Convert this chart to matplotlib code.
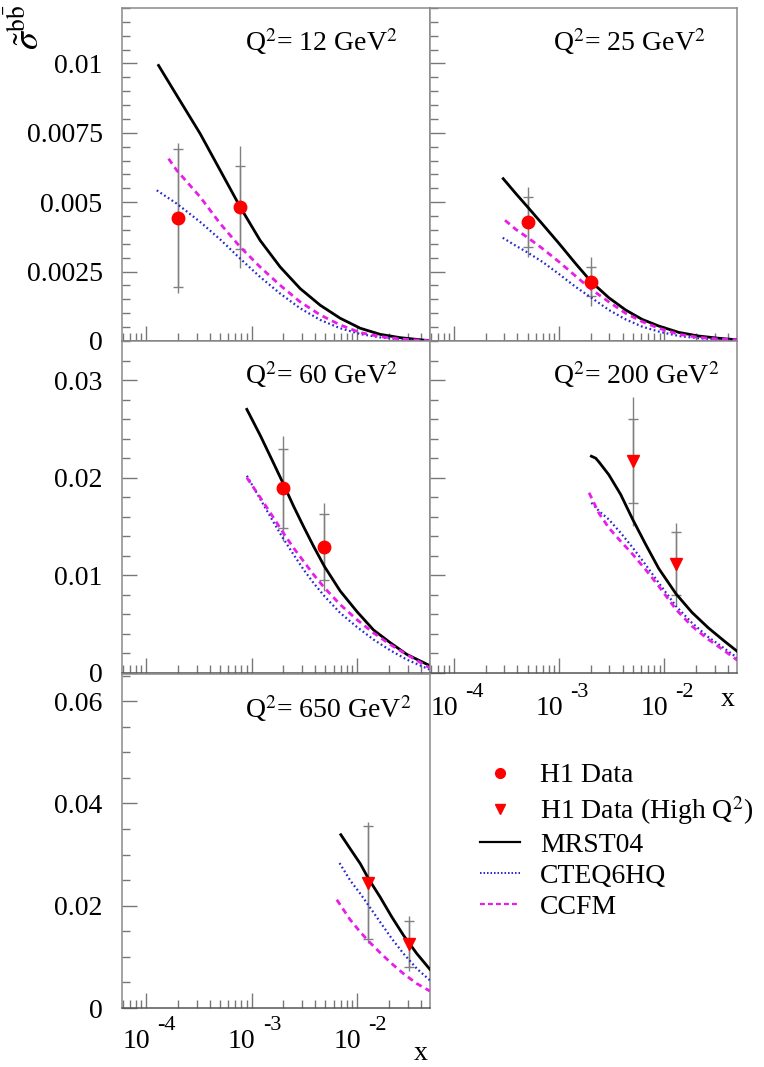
import numpy as np
import matplotlib
matplotlib.use('Agg')
import matplotlib.pyplot as plt
from matplotlib.ticker import LogLocator, FixedLocator, MultipleLocator, NullFormatter, FixedFormatter
from matplotlib.lines import Line2D
from matplotlib.transforms import offset_copy

plt.rcParams['font.family'] = ['Liberation Serif', 'DejaVu Serif']
plt.rcParams['mathtext.fontset'] = 'stix'

# ---------------- data ----------------
q2_values = ['12', '25', '60', '200', '650']
high_q2 = [False, False, False, True, True]

mrst_x = [[1.31e-4, 1.95e-4, 3.25e-4, 5.03e-4, 7.78e-4, 1.20e-3, 1.86e-3, 2.88e-3, 4.46e-3, 6.90e-3, 1.07e-2, 1.65e-2, 2.56e-2, 4.9e-2],
          [2.93e-4, 3.87e-4, 5.0e-4, 6.93e-4, 9.97e-4, 1.43e-3, 2.02e-3, 2.96e-3, 4.27e-3, 6.13e-3, 8.83e-3, 1.37e-2, 2.11e-2, 3.27e-2, 4.95e-2],
          [9.0e-4, 1.21e-3, 1.61e-3, 1.97e-3, 2.49e-3, 3.10e-3, 3.85e-3, 4.90e-3, 6.90e-3, 9.93e-3, 1.43e-2, 2.06e-2, 2.96e-2, 4.89e-2],
          [2.02e-3, 2.22e-3, 2.39e-3, 2.96e-3, 3.83e-3, 5.01e-3, 6.61e-3, 8.83e-3, 1.29e-2, 1.83e-2, 2.63e-2, 3.78e-2, 4.95e-2],
          [7.0e-3, 8.58e-3, 1.07e-2, 1.28e-2, 1.65e-2, 2.13e-2, 2.75e-2, 3.68e-2, 4.89e-2]]
mrst_y = [[0.00993, 0.00885, 0.00747, 0.00615, 0.00483, 0.00363, 0.00267, 0.00189, 0.00129, 0.00082, 0.00046, 0.00024, 0.00012, 0.00001],
          [0.00585, 0.00531, 0.00483, 0.00421, 0.00351, 0.00279, 0.00213, 0.00156, 0.00112, 0.00078, 0.00054, 0.00031, 0.00018, 0.0001, 0.00004],
          [0.0270, 0.0243, 0.0215, 0.0195, 0.0171, 0.0150, 0.0130, 0.0109, 0.0084, 0.0063, 0.0044, 0.0031, 0.0019, 0.00075],
          [0.0222, 0.0220, 0.0216, 0.0203, 0.0183, 0.0157, 0.0132, 0.0107, 0.0081, 0.0062, 0.0046, 0.0032, 0.0022],
          [0.03388, 0.03114, 0.02821, 0.02528, 0.02169, 0.01779, 0.0142, 0.01062, 0.00756]]

cteq_x = [[1.26e-4, 1.95e-4, 3.25e-4, 5.03e-4, 7.78e-4, 1.20e-3, 1.86e-3, 2.88e-3, 4.46e-3, 6.90e-3, 1.07e-2, 1.65e-2, 2.56e-2, 4.9e-2],
          [2.9e-4, 3.87e-4, 5.0e-4, 6.93e-4, 9.97e-4, 1.43e-3, 2.02e-3, 2.96e-3, 4.27e-3, 6.13e-3, 8.83e-3, 1.37e-2, 2.11e-2, 3.27e-2, 4.95e-2],
          [9.0e-4, 1.21e-3, 1.61e-3, 1.97e-3, 2.49e-3, 3.10e-3, 3.85e-3, 4.90e-3, 6.90e-3, 9.93e-3, 1.43e-2, 2.06e-2, 2.96e-2, 4.89e-2],
          [2.02e-3, 2.39e-3, 2.96e-3, 3.83e-3, 5.01e-3, 6.61e-3, 8.83e-3, 1.29e-2, 1.83e-2, 2.63e-2, 3.78e-2, 4.95e-2],
          [6.8e-3, 8.58e-3, 1.07e-2, 1.28e-2, 1.65e-2, 2.13e-2, 2.75e-2, 3.68e-2, 4.89e-2]]
cteq_y = [[0.00543, 0.00495, 0.00429, 0.00366, 0.00297, 0.00231, 0.00171, 0.00118, 0.00076, 0.00046, 0.00025, 0.00013, 0.00006, 0.0],
          [0.00372, 0.00343, 0.00319, 0.00285, 0.00241, 0.00195, 0.00156, 0.00112, 0.00078, 0.00052, 0.00034, 0.00018, 0.0001, 0.00005, 0.00001],
          [0.0202, 0.01778, 0.01545, 0.01385, 0.01214, 0.0106, 0.00923, 0.00786, 0.00615, 0.00472, 0.00342, 0.00232, 0.00137, 0.00034],
          [0.01744, 0.01658, 0.01573, 0.01436, 0.01282, 0.01111, 0.00923, 0.00684, 0.00513, 0.00366, 0.00246, 0.00154],
          [0.02834, 0.02495, 0.02235, 0.02007, 0.01681, 0.01355, 0.01062, 0.00769, 0.00541]]

ccfm_x = [[1.63e-4, 1.95e-4, 3.25e-4, 5.03e-4, 7.78e-4, 1.20e-3, 1.86e-3, 2.88e-3, 4.46e-3, 6.90e-3, 1.07e-2, 1.65e-2, 2.56e-2, 4.9e-2],
          [3.05e-4, 3.87e-4, 5.0e-4, 6.93e-4, 9.97e-4, 1.43e-3, 2.02e-3, 2.96e-3, 4.27e-3, 6.13e-3, 8.83e-3, 1.37e-2, 2.11e-2, 3.27e-2, 4.95e-2],
          [9.0e-4, 1.21e-3, 1.61e-3, 1.97e-3, 2.49e-3, 3.10e-3, 3.85e-3, 4.90e-3, 6.90e-3, 9.93e-3, 1.43e-2, 2.06e-2, 2.96e-2, 4.89e-2],
          [1.92e-3, 2.39e-3, 2.96e-3, 3.83e-3, 5.01e-3, 6.61e-3, 8.83e-3, 1.29e-2, 1.83e-2, 2.63e-2, 3.78e-2, 4.95e-2],
          [6.41e-3, 8.58e-3, 1.07e-2, 1.28e-2, 1.65e-2, 2.13e-2, 2.75e-2, 3.68e-2, 4.89e-2]]
ccfm_y = [[0.00657, 0.00615, 0.00519, 0.00423, 0.00339, 0.00267, 0.00201, 0.00141, 0.00094, 0.00058, 0.0003, 0.00016, 0.00007, 0.00001],
          [0.00435, 0.00402, 0.00373, 0.00333, 0.00285, 0.00234, 0.00186, 0.00141, 0.0010, 0.0007, 0.00046, 0.00024, 0.00013, 0.00007, 0.00004],
          [0.0200, 0.01795, 0.0159, 0.01443, 0.01282, 0.01145, 0.01009, 0.00872, 0.00701, 0.00547, 0.0041, 0.00291, 0.00188, 0.00051],
          [0.01846, 0.01634, 0.01487, 0.0135, 0.01214, 0.0106, 0.00889, 0.0065, 0.00479, 0.00342, 0.00222, 0.0013],
          [0.02117, 0.01726, 0.01485, 0.01309, 0.01081, 0.00866, 0.00671, 0.00476, 0.00332]]

h1_x = [[2.0e-4, 7.8e-4], [5.0e-4, 2.0e-3], [2.0e-3, 4.9e-3], [5.0e-3, 1.3e-2], [1.27e-2, 3.1e-2]]
h1_y = [[0.00443, 0.00482], [0.00428, 0.00213], [0.0189, 0.0129], [0.0217, 0.0112], [0.0245, 0.0126]]
h1_stat = [[0.0025, 0.0015], [0.0009, 0.00052], [0.0040, 0.0034], [0.0043, 0.0032], [0.0110, 0.0045]]
h1_tot = [[0.0027, 0.0022], [0.00127, 0.00088], [0.0054, 0.0045], [0.0066, 0.0042], [0.0118, 0.0054]]

row_ylim = [0.012, 0.034, 0.0653]
row_yticks = [[0, 0.0025, 0.005, 0.0075, 0.01], [0, 0.01, 0.02, 0.03], [0, 0.02, 0.04, 0.06]]
row_yticklabels = [['0', '0.0025', '0.005', '0.0075', '0.01'], ['0', '0.01', '0.02', '0.03'],
                   ['0', '0.02', '0.04', '0.06']]
row_yminor = [0.0005, 0.002, 0.005]
xticks = [1e-4, 1e-3, 1e-2]
xtick_exponents = ['-4', '-3', '-2']
xlim = (5.9e-5, 4.9e-2)

# ---------------- layout ----------------
W, H = 764, 1067
fig = plt.figure(figsize=(W / 100, H / 100), dpi=100)

col_x = [(122, 430), (430, 737)]
row_y = [(8, 341), (341, 673), (674, 1008)]
panel_pos = [(0, 0), (0, 1), (1, 0), (1, 1), (2, 0)]

def make_ax(r, c):
    x0, x1 = col_x[c]
    y0, y1 = row_y[r]
    return fig.add_axes([x0 / W, 1 - y1 / H, (x1 - x0) / W, (y1 - y0) / H])

spine_col = '#8a8a8a'
FS = 20

axes = []
for i, (r, c) in enumerate(panel_pos):
    ax = make_ax(r, c)
    axes.append(ax)
    ax.set_xscale('log')
    ax.set_xlim(*xlim)
    ax.set_ylim(0, row_ylim[r])
    for s in ax.spines.values():
        s.set_color(spine_col)
        s.set_linewidth(1.1)
    ax.spines['bottom'].set_color('#555555')
    ax.xaxis.set_major_locator(FixedLocator(xticks))
    ax.xaxis.set_minor_locator(LogLocator(base=10, subs=np.arange(2, 10)))
    ax.xaxis.set_minor_formatter(NullFormatter())
    ax.xaxis.set_major_formatter(NullFormatter())
    ax.yaxis.set_major_locator(FixedLocator(row_yticks[r]))
    ax.yaxis.set_minor_locator(MultipleLocator(row_yminor[r]))
    ax.tick_params(which='both', direction='in', top=False, right=False, colors='#777777',
                   labelcolor='black', labelsize=FS)
    ax.tick_params(which='major', length=11, width=1)
    ax.tick_params(which='minor', length=6, width=1)
    ax.tick_params(axis='y', pad=14)
    if c == 0:
        ax.yaxis.set_major_formatter(FixedFormatter(row_yticklabels[r]))
    else:
        ax.yaxis.set_major_formatter(NullFormatter())
    if (r, c) in [(2, 0), (1, 1)]:
        base_dy = -40 if r == 2 else -42
        tr = ax.get_xaxis_transform()
        for xv, ex in zip(xticks, xtick_exponents):
            ax.text(xv, 0, '10', transform=offset_copy(tr, fig=fig, x=4, y=base_dy, units='dots'),
                    ha='right', va='baseline', fontsize=FS)
            ax.text(xv, 0, ex, transform=offset_copy(tr, fig=fig, x=11, y=base_dy + 18, units='dots'),
                    ha='left', va='baseline', fontsize=16)
        xl_y = -46 / 334 if r == 2 else -27 / 332
        ax.text(0.97, xl_y, 'x', transform=ax.transAxes, ha='center', va='center', fontsize=FS)

    # error bars: total (no caps) then stat (caps)
    ax.errorbar(h1_x[i], h1_y[i], yerr=h1_tot[i], fmt='none', ecolor='#808080',
                elinewidth=1, capsize=0, zorder=2)
    ax.errorbar(h1_x[i], h1_y[i], yerr=h1_stat[i], fmt='none', ecolor='#808080',
                elinewidth=1, capsize=3.5, capthick=1, zorder=2)
    ax.plot(mrst_x[i], mrst_y[i], color='black', lw=2.0, zorder=3)
    ax.plot(cteq_x[i], cteq_y[i], color='#2a2ad0', lw=1.6, linestyle=(0, (0.8, 1.2)), zorder=3)
    ax.plot(ccfm_x[i], ccfm_y[i], color='#e81ee8', lw=2.0, linestyle=(0, (2.2, 1.6)), zorder=3)
    mk = 'v' if high_q2[i] else 'o'
    ax.plot(h1_x[i], h1_y[i], linestyle='none', marker=mk, color='red', markersize=9, zorder=4)

    ax.text(0.40, 0.898, r'Q$^2$= ' + q2_values[i] + r' GeV$^2$', transform=ax.transAxes,
            ha='left', va='center', fontsize=FS)

# y axis label
fig.text(27 / W, 1 - 27 / H, r'$\tilde{\sigma}^{\mathrm{b}\bar{\mathrm{b}}}$', rotation=90,
         ha='center', va='center', fontsize=26)

# legend
handles = [Line2D([], [], linestyle='none', marker='o', color='red', markersize=7),
           Line2D([], [], linestyle='none', marker='v', color='red', markersize=7),
           Line2D([], [], color='black', lw=1.6),
           Line2D([], [], color='#2a2ad0', lw=1.4, linestyle=(0, (0.8, 1.0))),
           Line2D([], [], color='#e81ee8', lw=1.6, linestyle=(0, (2.2, 1.4)))]
labels = ['H1 Data', r'H1 Data (High Q$^2$)', 'MRST04', 'CTEQ6HQ', 'CCFM']
fig.legend(handles, labels, loc='upper left', bbox_to_anchor=(480 / W, 1 - 763 / H),
           frameon=False, fontsize=FS, handlelength=1.45, handletextpad=0.7,
           labelspacing=0.2, borderpad=0, borderaxespad=0)

fig.savefig('out.png', dpi=100)
